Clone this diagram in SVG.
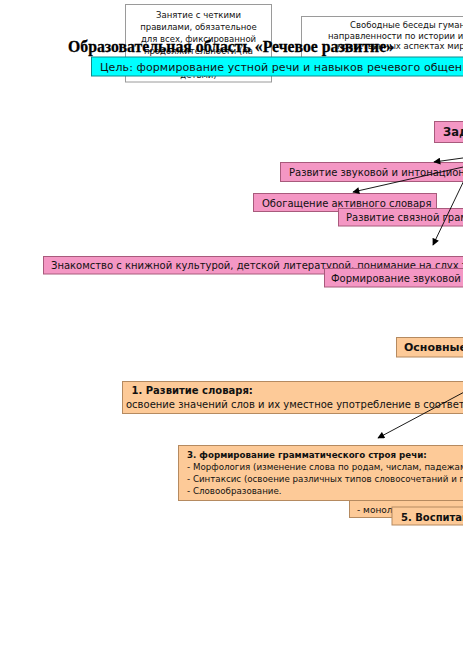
<svg xmlns="http://www.w3.org/2000/svg" width="463" height="667" viewBox="0 0 463 667">
<defs>
<style>
.sans{font-family:"DejaVu Sans","Liberation Sans",sans-serif;fill:#111}
.note{fill:#fff;stroke:#9a9a9a;stroke-width:1}
.pink{fill:#f497c4;stroke:#a85a7c;stroke-width:1}
.orange{fill:#fdca98;stroke:#b58a60;stroke-width:1}
.conn{stroke:#000;stroke-width:0.9;fill:none;marker-end:url(#ah)}
</style>
<marker id="ah" viewBox="0 0 10 10" refX="9" refY="5" markerWidth="8" markerHeight="7" markerUnits="userSpaceOnUse" orient="auto">
<path d="M0,0 L10,5 L0,10 z" fill="#000"/>
</marker>
</defs>
<rect width="463" height="667" fill="#fff"/>

<g id="note1">
<rect class="note" x="125.5" y="4.5" width="146" height="77.5"/>
<g class="sans" font-size="8.5" text-anchor="middle">
<text x="198.5" y="18">Занятие с четкими</text>
<text x="198.5" y="30">правилами, обязательное</text>
<text x="198.5" y="42">для всех, фиксированной</text>
<text x="198.5" y="54">продолжительности (на</text>
<text x="198.5" y="78">детьми)</text>
</g>
</g>

<g id="note2">
<rect class="note" x="301.5" y="16.5" width="175" height="55"/>
<g class="sans" font-size="8.5">
<text x="350" y="28">Свободные беседы гуманистической</text>
<text x="328" y="38.5">направленности по истории и культуре</text>
<text x="337" y="49">нравственных аспектах мира</text>
</g>
</g>

<g id="title">
<text x="68" y="52" font-family="'Liberation Serif','Times New Roman',serif" font-weight="bold" font-size="17" textLength="326" lengthAdjust="spacingAndGlyphs" fill="#000" stroke="#000" stroke-width="0.3">Образовательная область «Речевое развитие»</text>
</g>

<g id="goal">
<rect x="91.5" y="57" width="380" height="19" fill="#00ffff" stroke="#0a8f8f" stroke-width="1"/>
<text class="sans" x="100" y="71" font-size="11" textLength="376" lengthAdjust="spacing">Цель: формирование устной речи и навыков речевого общения</text>
</g>

<g id="tasks">
<rect class="pink" x="434.5" y="121.5" width="40" height="21"/>
<text class="sans" x="443" y="136" font-size="11.5" font-weight="bold">Задачи</text>
</g>

<g id="task1">
<rect class="pink" x="280.5" y="162.5" width="200" height="19"/>
<text class="sans" x="289" y="176" font-size="10">Развитие звуковой и интонационной культуры речи</text>
</g>

<g id="task2">
<rect class="pink" x="253.5" y="193.5" width="183" height="18"/>
<text class="sans" x="262" y="206.5" font-size="10">Обогащение активного словаря</text>
</g>

<g id="task3">
<rect class="pink" x="338.5" y="208.5" width="140" height="17.5"/>
<text class="sans" x="346" y="221" font-size="10">Развитие связной грамматически правильной речи</text>
</g>

<g id="task4">
<rect class="pink" x="43.5" y="256.5" width="430" height="17.5"/>
<text class="sans" x="51" y="269" font-size="10">Знакомство с книжной культурой, детской литературой, понимание на слух текстов</text>
</g>

<g id="task5">
<rect class="pink" x="324.5" y="268.5" width="150" height="18.5"/>
<text class="sans" x="331" y="282" font-size="10">Формирование звуковой аналитико-синтетической активности</text>
</g>

<g id="directions">
<rect class="orange" x="396.5" y="337.5" width="80" height="19.5"/>
<text class="sans" x="404" y="351" font-size="11" font-weight="bold">Основные направления</text>
</g>

<g id="dir1">
<rect class="orange" x="122.5" y="381.5" width="355" height="32"/>
<text class="sans" x="131.5" y="393.5" font-size="10" font-weight="bold">1. Развитие словаря:</text>
<text class="sans" x="126" y="408" font-size="10">освоение значений слов и их уместное употребление в соответствии с контекстом</text>
</g>

<g id="dir3">
<rect class="orange" x="178.5" y="445.5" width="300" height="55"/>
<text class="sans" x="187" y="457.5" font-size="8.7" font-weight="bold">3. формирование грамматического строя речи:</text>
<text class="sans" x="187" y="469.5" font-size="8.7">- Морфология (изменение слова по родам, числам, падежам)</text>
<text class="sans" x="187" y="482" font-size="8.7">- Синтаксис (освоение различных типов словосочетаний и предложений)</text>
<text class="sans" x="187" y="494" font-size="8.7">- Словообразование.</text>
</g>

<g id="dir4">
<rect class="orange" x="349.5" y="500.5" width="130" height="17"/>
<text class="sans" x="357" y="513" font-size="9">- монологическая речь</text>
</g>

<g id="dir5">
<rect class="orange" x="392" y="507" width="90" height="18" stroke="#3a2a1a"/>
<text class="sans" x="401" y="521" font-size="10" font-weight="bold">5. Воспитание любви и интереса к художественному слову</text>
</g>

<g id="connectors">
<line class="conn" x1="470" y1="157" x2="434" y2="162"/>
<line class="conn" x1="472" y1="165" x2="353" y2="192"/>
<line class="conn" x1="469" y1="170" x2="433" y2="245"/>
<line class="conn" x1="468" y1="390" x2="378" y2="438"/>
</g>
</svg>
